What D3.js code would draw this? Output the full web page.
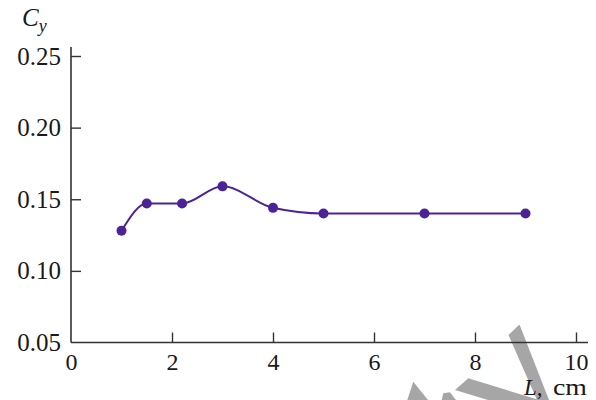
<!DOCTYPE html>
<html>
<head>
<meta charset="utf-8">
<script src="https://cdn.jsdelivr.net/npm/d3@7"></script>
<style>
  html, body { margin: 0; padding: 0; background: #fff; }
  svg { display: block; }
  text { font-family: "Liberation Serif", "DejaVu Serif", serif; fill: #1a1a1a; }
</style>
</head>
<body>
<svg id="chart" width="596" height="400"></svg>
<script>
// Lift coefficient C_y against length L (cm)
const lengthCm = [1, 1.5, 2.2, 3, 4, 5, 7, 9];
const cyValues = [0.128, 0.147, 0.147, 0.159, 0.144, 0.140, 0.140, 0.140];
const xTicks = [0, 2, 4, 6, 8, 10];
const yTicks = [0.05, 0.10, 0.15, 0.20, 0.25];

const svg = d3.select("#chart");
const x = d3.scaleLinear().domain([0, 10]).range([71, 576]);
const y = d3.scaleLinear().domain([0.05, 0.25]).range([342.5, 56]);
const axisColor = "#333";

// Decorative grey stripes in the lower right corner
const stripes = [
  [[508.5, 335], [519.5, 324.5], [549, 400], [537, 400]],
  [[455, 390], [468.3, 378.3], [539, 400], [488, 400]],
  [[413.3, 381.7], [428, 400], [407.3, 400]],
  [[443.3, 393.3], [450, 392.3], [456, 400], [441.7, 400]]
];
svg.append("g").selectAll("polygon").data(stripes).join("polygon")
  .attr("points", d => d.map(p => p.join(",")).join(" "))
  .attr("fill", "#a6a6a6");

// Axes
const xAxis = d3.axisBottom(x).tickValues(xTicks).tickSize(-10).tickPadding(10)
  .tickFormat(d3.format("d"));
const gx = svg.append("g").attr("transform", `translate(0,${y(0.05)})`).call(xAxis);
gx.select(".domain").attr("d", `M${x(0)},0H588`);

const yAxis = d3.axisLeft(y).tickValues(yTicks).tickSize(-10).tickPadding(10)
  .tickFormat(d3.format(".2f"));
const gy = svg.append("g").attr("transform", `translate(${x(0)},0)`).call(yAxis);
gy.select(".domain").attr("d", `M0,47V${y(0.05)}`);

[[gx, 24], [gy, 25]].forEach(([g, size]) => {
  g.attr("font-family", null).attr("font-size", null);
  g.selectAll(".domain").attr("stroke", axisColor).attr("stroke-width", 1.6);
  g.selectAll(".tick line").attr("stroke", axisColor).attr("stroke-width", 1.4);
  g.selectAll(".tick text").style("font-size", size + "px")
    .style("font-family", "'Liberation Serif', serif").attr("fill", "#1a1a1a");
});
gx.selectAll(".tick text").attr("dy", "0.71em");
// Hide the tick mark at the origin on both axes
gx.selectAll(".tick").filter(d => d === 0).select("line").remove();
gy.selectAll(".tick").filter(d => d === 0.05).select("line").remove();

// Curve and markers
const line = d3.line()
  .x((d, i) => x(lengthCm[i]))
  .y(d => y(d))
  .curve(d3.curveMonotoneX);
svg.append("path").datum(cyValues)
  .attr("d", line)
  .attr("fill", "none")
  .attr("stroke", "#4a2396")
  .attr("stroke-width", 2);
svg.append("g").selectAll("circle").data(cyValues).join("circle")
  .attr("cx", (d, i) => x(lengthCm[i]))
  .attr("cy", d => y(d))
  .attr("r", 5)
  .attr("fill", "#4a2396");

// Axis titles
const yTitle = svg.append("text").attr("x", 22).attr("y", 26).style("font-size", "25px");
yTitle.append("tspan").attr("font-style", "italic").text("C");
yTitle.append("tspan").attr("font-style", "italic").style("font-size", "18px").attr("dy", 6).text("y");

const xTitle = svg.append("text").attr("x", 524).attr("y", 395).style("font-size", "23px");
xTitle.append("tspan").attr("font-style", "italic").text("L");
xTitle.append("tspan").text(",");
xTitle.append("tspan").attr("x", 553).attr("textLength", 34)
  .attr("lengthAdjust", "spacingAndGlyphs").text("cm");
</script>
</body>
</html>
